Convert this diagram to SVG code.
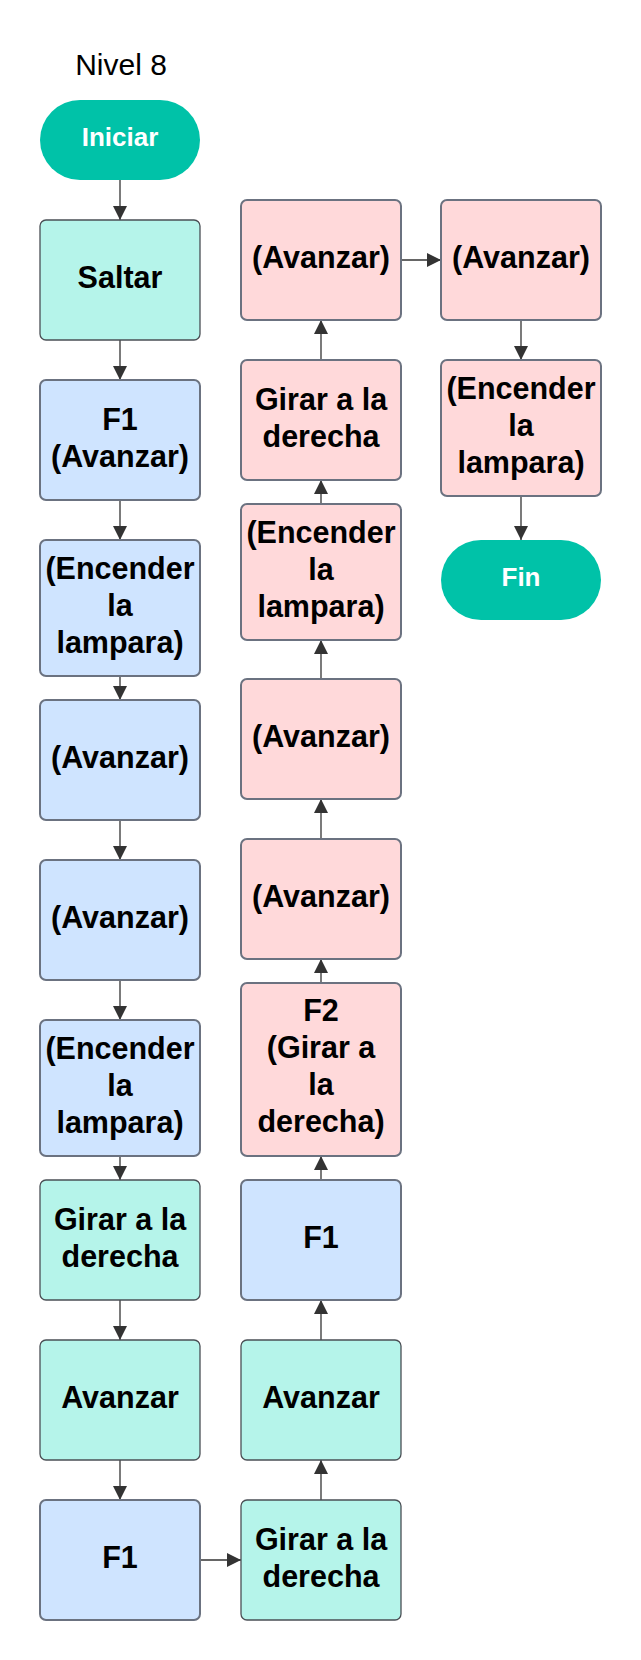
<svg xmlns="http://www.w3.org/2000/svg" width="641" height="1660" viewBox="0 0 641 1660">
<style>
.t{font-family:"Liberation Sans",Arial,sans-serif;font-weight:bold;font-size:30.5px;fill:#000;text-anchor:middle}
.tw{font-family:"Liberation Sans",Arial,sans-serif;font-weight:bold;font-size:26px;fill:#fff;text-anchor:middle}
.title{font-family:"Liberation Sans",Arial,sans-serif;font-size:30px;fill:#000;text-anchor:middle}
.term{fill:#00C2A8}
.lt{fill:#B5F4EA;stroke:#4a4f55;stroke-width:1.3}
.bl{fill:#CFE4FF;stroke:#6b7280;stroke-width:2}
.pk{fill:#FFD9DA;stroke:#6b7280;stroke-width:2}
.c{stroke:#333;stroke-width:1.3;fill:none;marker-end:url(#ah)}
</style>
<defs>
<marker id="ah" markerUnits="userSpaceOnUse" markerWidth="15" markerHeight="15" refX="14" refY="7" orient="auto">
<path d="M0,0 L14,7 L0,14 z" fill="#333"/>
</marker>
</defs>
<rect width="641" height="1660" fill="#fff"/>
<text class="title" x="121" y="75">Nivel 8</text>

<g id="connectors">
<line class="c" x1="120" y1="180" x2="120" y2="220"/>
<line class="c" x1="120" y1="340" x2="120" y2="380"/>
<line class="c" x1="120" y1="500" x2="120" y2="540"/>
<line class="c" x1="120" y1="676" x2="120" y2="700"/>
<line class="c" x1="120" y1="820" x2="120" y2="860"/>
<line class="c" x1="120" y1="980" x2="120" y2="1020"/>
<line class="c" x1="120" y1="1156" x2="120" y2="1180"/>
<line class="c" x1="120" y1="1300" x2="120" y2="1340"/>
<line class="c" x1="120" y1="1460" x2="120" y2="1500"/>
<line class="c" x1="200" y1="1560" x2="241" y2="1560"/>
<line class="c" x1="321" y1="1500" x2="321" y2="1460"/>
<line class="c" x1="321" y1="1340" x2="321" y2="1300"/>
<line class="c" x1="321" y1="1180" x2="321" y2="1156"/>
<line class="c" x1="321" y1="983" x2="321" y2="959"/>
<line class="c" x1="321" y1="839" x2="321" y2="799"/>
<line class="c" x1="321" y1="679" x2="321" y2="640"/>
<line class="c" x1="321" y1="504" x2="321" y2="480"/>
<line class="c" x1="321" y1="360" x2="321" y2="320"/>
<line class="c" x1="401" y1="260" x2="441" y2="260"/>
<line class="c" x1="521" y1="320" x2="521" y2="360"/>
<line class="c" x1="521" y1="496" x2="521" y2="540"/>
</g>

<g id="iniciar"><rect class="term" x="40" y="100" width="160" height="80" rx="40" ry="40"/><text class="tw" x="120" y="146">Iniciar</text></g>
<g id="saltar"><rect class="lt" x="40" y="220" width="160" height="120" rx="6"/><text class="t" x="120" y="288">Saltar</text></g>
<g id="c1_f1"><rect class="bl" x="40" y="380" width="160" height="120" rx="6"/><text class="t" x="120" y="429.5">F1</text><text class="t" x="120" y="466.5">(Avanzar)</text></g>
<g id="c1_enc1"><rect class="bl" x="40" y="540" width="160" height="136" rx="6"/><text class="t" x="120" y="579">(Encender</text><text class="t" x="120" y="616">la</text><text class="t" x="120" y="653">lampara)</text></g>
<g id="c1_av1"><rect class="bl" x="40" y="700" width="160" height="120" rx="6"/><text class="t" x="120" y="768">(Avanzar)</text></g>
<g id="c1_av2"><rect class="bl" x="40" y="860" width="160" height="120" rx="6"/><text class="t" x="120" y="928">(Avanzar)</text></g>
<g id="c1_enc2"><rect class="bl" x="40" y="1020" width="160" height="136" rx="6"/><text class="t" x="120" y="1059">(Encender</text><text class="t" x="120" y="1096">la</text><text class="t" x="120" y="1133">lampara)</text></g>
<g id="c1_girar"><rect class="lt" x="40" y="1180" width="160" height="120" rx="6"/><text class="t" x="120" y="1229.5">Girar a la</text><text class="t" x="120" y="1266.5">derecha</text></g>
<g id="c1_avanzar"><rect class="lt" x="40" y="1340" width="160" height="120" rx="6"/><text class="t" x="120" y="1408">Avanzar</text></g>
<g id="c1_f1b"><rect class="bl" x="40" y="1500" width="160" height="120" rx="6"/><text class="t" x="120" y="1568">F1</text></g>

<g id="c2_girar"><rect class="lt" x="241" y="1500" width="160" height="120" rx="6"/><text class="t" x="321" y="1549.5">Girar a la</text><text class="t" x="321" y="1586.5">derecha</text></g>
<g id="c2_avanzar"><rect class="lt" x="241" y="1340" width="160" height="120" rx="6"/><text class="t" x="321" y="1408">Avanzar</text></g>
<g id="c2_f1"><rect class="bl" x="241" y="1180" width="160" height="120" rx="6"/><text class="t" x="321" y="1248">F1</text></g>
<g id="c2_f2"><rect class="pk" x="241" y="983" width="160" height="173" rx="6"/><text class="t" x="321" y="1021">F2</text><text class="t" x="321" y="1058">(Girar a</text><text class="t" x="321" y="1095">la</text><text class="t" x="321" y="1132">derecha)</text></g>
<g id="c2_av1"><rect class="pk" x="241" y="839" width="160" height="120" rx="6"/><text class="t" x="321" y="907">(Avanzar)</text></g>
<g id="c2_av2"><rect class="pk" x="241" y="679" width="160" height="120" rx="6"/><text class="t" x="321" y="747">(Avanzar)</text></g>
<g id="c2_enc"><rect class="pk" x="241" y="504" width="160" height="136" rx="6"/><text class="t" x="321" y="543">(Encender</text><text class="t" x="321" y="580">la</text><text class="t" x="321" y="617">lampara)</text></g>
<g id="c2_girar2"><rect class="pk" x="241" y="360" width="160" height="120" rx="6"/><text class="t" x="321" y="409.5">Girar a la</text><text class="t" x="321" y="446.5">derecha</text></g>
<g id="c2_av3"><rect class="pk" x="241" y="200" width="160" height="120" rx="6"/><text class="t" x="321" y="268">(Avanzar)</text></g>

<g id="c3_av"><rect class="pk" x="441" y="200" width="160" height="120" rx="6"/><text class="t" x="521" y="268">(Avanzar)</text></g>
<g id="c3_enc"><rect class="pk" x="441" y="360" width="160" height="136" rx="6"/><text class="t" x="521" y="399">(Encender</text><text class="t" x="521" y="436">la</text><text class="t" x="521" y="473">lampara)</text></g>
<g id="fin"><rect class="term" x="441" y="540" width="160" height="80" rx="40" ry="40"/><text class="tw" x="521" y="586">Fin</text></g>
</svg>
